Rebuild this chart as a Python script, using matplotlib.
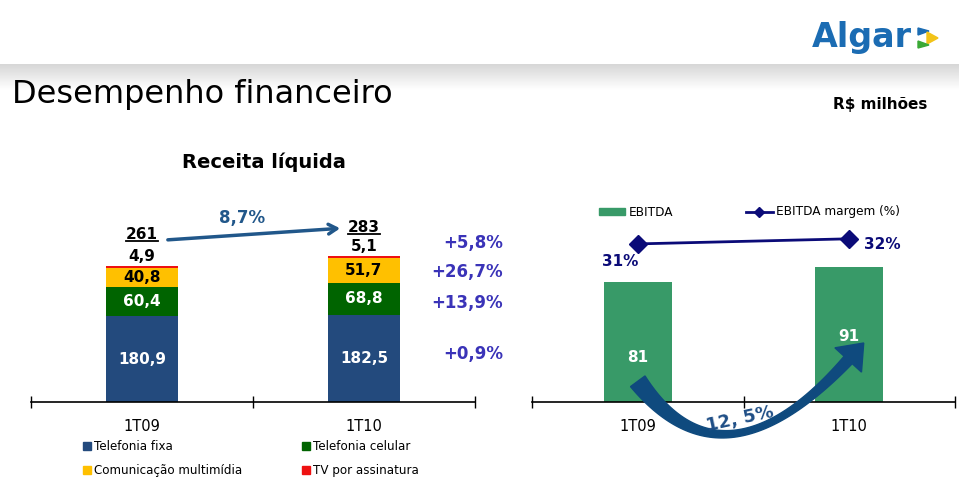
import numpy as np
import matplotlib
matplotlib.use("Agg")
import matplotlib.pyplot as plt
from matplotlib.patches import Patch, Polygon
from matplotlib.lines import Line2D

plt.rcParams['font.family'] = ['DejaVu Sans']

# ---- data ----
periodos = ['1T09', '1T10']
telefonia_fixa = [180.9, 182.5]
telefonia_celular = [60.4, 68.8]
comunicacao_multimidia = [40.8, 51.7]
tv_assinatura = [4.9, 5.1]
receita_total = ['261', '283']
crescimento = ['+0,9%', '+13,9%', '+26,7%', '+5,8%']
crescimento_total = '8,7%'

ebitda = [81, 91]
ebitda_margem = [31, 32]
crescimento_ebitda = '12, 5%'

c_fixa = '#234a7d'
c_cel = '#006400'
c_mult = '#ffc000'
c_tv = '#ee1111'
c_pct = '#3a33b8'
c_arrow = '#21578a'
c_ebitda = '#389a68'
c_line = '#0b0b78'

fig = plt.figure(figsize=(9.59, 4.8), dpi=100)
W, H = 959, 480

def fx(px):
    return px / W

def fy(py):
    return 1 - py / H

# ---- header ----
band = fig.add_axes([0, fy(90), 1, (90 - 64) / H])
grad = np.linspace(0.84, 1.0, 50).reshape(-1, 1)
band.imshow(grad, aspect='auto', cmap='gray', vmin=0, vmax=1, extent=[0, 1, 0, 1])
band.axis('off')

fig.text(fx(12), fy(95), 'Desempenho financeiro', fontsize=23, va='center', ha='left')
fig.text(fx(927), fy(105), 'R$ milhões', fontsize=11, fontweight='bold', va='center', ha='right')
fig.text(fx(264), fy(162), 'Receita líquida', fontsize=14, fontweight='bold', va='center', ha='center')

# logo
fig.text(fx(862), fy(38), 'Algar', fontsize=24, fontweight='bold', color='#1b6cb3',
         va='center', ha='center')
tri = [([(918, 28), (929, 31), (918, 35)], '#1b6cb3'),
       ([(927, 32), (938, 38), (927, 44)], '#f2c318'),
       ([(918, 41), (929, 45), (918, 48)], '#3aa935')]
for pts, col in tri:
    fig.add_artist(Polygon([(fx(a), fy(b)) for a, b in pts], closed=True,
                           transform=fig.transFigure, color=col))

# ---- left chart: receita ----
ax = fig.add_axes([fx(31), fy(402), fx(475 - 31), (402 - 190) / H])
x = np.arange(len(periodos))
bw = 0.324
bottom = np.zeros(2)
series = [(telefonia_fixa, c_fixa, 'white'), (telefonia_celular, c_cel, 'white'),
          (comunicacao_multimidia, c_mult, 'black'), (tv_assinatura, c_tv, 'black')]
mids = []
for vals, col, tcol in series:
    vals = np.array(vals)
    ax.bar(x, vals, bw, bottom=bottom, color=col, edgecolor='none')
    mids.append(bottom + vals / 2)
    if col != c_tv:
        for i in range(2):
            ax.text(x[i], bottom[i] + vals[i] / 2, f'{vals[i]:.1f}'.replace('.', ','),
                    ha='center', va='center', color=tcol, fontsize=11, fontweight='bold')
    bottom = bottom + vals

tops = bottom
for i in range(2):
    ax.annotate(f'{tv_assinatura[i]:.1f}'.replace('.', ','), (x[i], tops[i]),
                xytext=(0, 1.5), textcoords='offset points', ha='center', va='bottom',
                fontsize=11, fontweight='bold', annotation_clip=False)
tot_txt = []
tot_off = [17, 15]
for i in range(2):
    t = ax.annotate(receita_total[i], (x[i], tops[i]), xytext=(0, tot_off[i]),
                    textcoords='offset points', ha='center', va='bottom',
                    fontsize=11, fontweight='bold', annotation_clip=False)
    tot_txt.append(t)

# growth per segment
pct_off = [3, -3, -1, 10]
for k, s in enumerate(crescimento):
    ax.annotate(s, (1.626, mids[k][1]), xytext=(0, pct_off[k]), textcoords='offset points',
                ha='right', va='center', color=c_pct, fontsize=12, fontweight='bold',
                annotation_clip=False)

ax.annotate('', xy=(0.905, 366), xytext=(0.104, 341),
            arrowprops=dict(arrowstyle='->,head_length=0.6,head_width=0.35',
                            color=c_arrow, lw=2.5), annotation_clip=False)
ax.text(0.45, 388, crescimento_total, ha='center', va='center', color=c_arrow,
        fontsize=12, fontweight='bold')

ax.set_xlim(-0.5, 1.5)
ax.set_ylim(0, 212 / 0.475)
ax.set_xticks([-0.5, 0.5, 1.5])
ax.set_xticklabels([])
ax.set_xticks(x, minor=True)
ax.set_xticklabels(periodos, minor=True, fontsize=10.5)
ax.tick_params(axis='x', which='major', direction='inout', length=8, width=1)
ax.tick_params(axis='x', which='minor', length=0, pad=12)
ax.set_yticks([])
for sp in ['top', 'left', 'right']:
    ax.spines[sp].set_visible(False)
ax.spines['bottom'].set_linewidth(1.2)

handles = [Patch(color=c_fixa, label='Telefonia fixa'),
           Patch(color=c_mult, label='Comunicação multimídia'),
           Patch(color=c_cel, label='Telefonia celular'),
           Patch(color=c_tv, label='TV por assinatura')]
fig.legend(handles=handles, ncol=2, loc='upper left', bbox_to_anchor=(fx(78), fy(435)),
           frameon=False, fontsize=8.6, handlelength=0.65, handleheight=0.65,
           handletextpad=0.3, columnspacing=5.0, labelspacing=0.95, borderaxespad=0)

# ---- right chart: EBITDA ----
ax2 = fig.add_axes([fx(532), fy(402), fx(955 - 532), (402 - 190) / H])
ax2.bar(x, ebitda, 0.32, color=c_ebitda, edgecolor='none', label='EBITDA')
ax2.set_xlim(-0.5, 1.5)
ax2.set_ylim(0, 212 / 1.48)
ax2.set_xticks([-0.5, 0.5, 1.5])
ax2.set_xticklabels([])
ax2.set_xticks(x, minor=True)
ax2.set_xticklabels(periodos, minor=True, fontsize=10.5)
ax2.tick_params(axis='x', which='major', direction='inout', length=8, width=1)
ax2.tick_params(axis='x', which='minor', length=0, pad=12)
ax2.set_yticks([])
for sp in ['top', 'left', 'right']:
    ax2.spines[sp].set_visible(False)
ax2.spines['bottom'].set_linewidth(1.2)

ax3 = ax2.twinx()
ax3.plot(x, ebitda_margem, color=c_line, lw=2, marker='D', markersize=9,
         label='EBITDA margem (%)')
ax3.set_ylim(0, 212 / 5.1)
ax3.set_yticks([])
for sp in ax3.spines.values():
    sp.set_visible(False)
lbl_off = [(-13, -13), (24, -4)]
for i in range(2):
    ax3.annotate(f'{ebitda_margem[i]}%', (x[i], ebitda_margem[i]), xytext=lbl_off[i],
                 textcoords='offset points', ha='center', va='center', color=c_line,
                 fontsize=11, fontweight='bold')

ebitda_lbl_y = [30, 44]
for i in range(2):
    ax3.text(x[i], ebitda_lbl_y[i], str(ebitda[i]), ha='center', va='center',
             color='white', fontsize=11, fontweight='bold', zorder=7,
             transform=ax2.transData)

h_leg = [Patch(color=c_ebitda, label='EBITDA'),
         Line2D([], [], color=c_line, lw=2, marker='D', markersize=5, label='EBITDA margem (%)')]
fig.legend(handles=h_leg, ncol=2, loc='center left', bbox_to_anchor=(fx(594), fy(212)),
           frameon=False, fontsize=8.7, handlelength=2.2, handleheight=0.5,
           handletextpad=0.3, columnspacing=6.0, borderaxespad=0)

# curved, tapering growth arrow (quadratic bezier in display pixels)
p0, pm, p2 = ax2.transData.transform([(0.0, 14), (0.45, -21.5), (0.995, 28.4)])
c = 2 * pm - 0.5 * (p0 + p2)
t = np.linspace(0, 1, 80)[:, None]
pts = (1 - t) ** 2 * p0 + 2 * (1 - t) * t * c + t ** 2 * p2
der = 2 * (1 - t) * (c - p0) + 2 * t * (p2 - c)
tang = der / np.linalg.norm(der, axis=1, keepdims=True)
nrm = np.column_stack([-tang[:, 1], tang[:, 0]])
wid = (18 - 37 * t + 30 * t ** 2) / 2
left = pts + nrm * wid
right = pts - nrm * wid
tip = p2 + tang[-1] * 23
hb1 = p2 + nrm[-1] * 18
hb2 = p2 - nrm[-1] * 18
outline = np.vstack([left, hb1, tip, hb2, right[::-1]])
outline = fig.transFigure.inverted().transform(outline)
ax3.add_patch(Polygon(outline, closed=True, transform=fig.transFigure,
                      color='#0f4a7e', zorder=5, clip_on=False))
ax3.text(0.485, -11.5, crescimento_ebitda, rotation=12, ha='center', va='center',
         color='#1f4e86', fontsize=13, fontweight='bold', zorder=6, clip_on=False,
         transform=ax2.transData)

# underline totals
fig.canvas.draw()
r = fig.canvas.get_renderer()
for tt in tot_txt:
    bb = tt.get_window_extent(r)
    y0 = bb.y0 + 1
    fig.add_artist(Line2D([bb.x0 / W, bb.x1 / W], [y0 / H, y0 / H], color='black', lw=1.3,
                          transform=fig.transFigure))

fig.savefig('out.png', dpi=100)
